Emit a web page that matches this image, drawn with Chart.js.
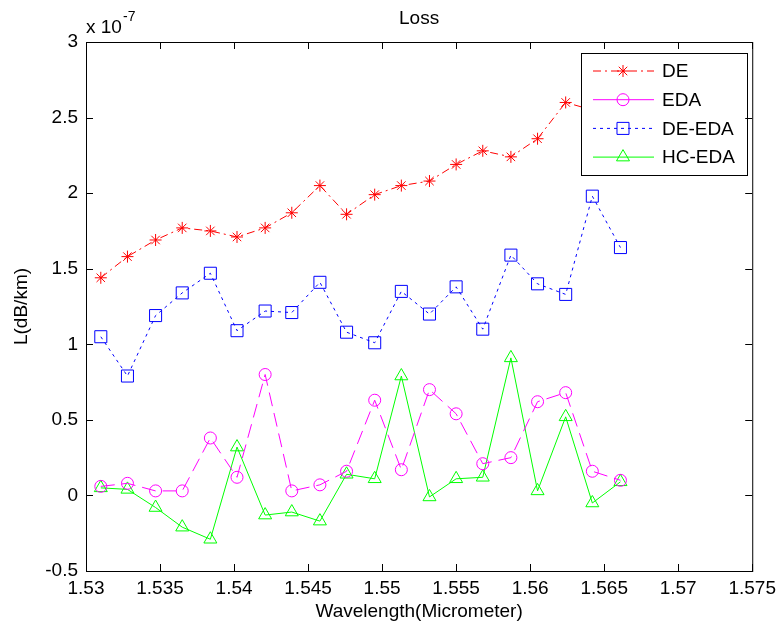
<!DOCTYPE html>
<html>
<head>
<meta charset="utf-8">
<script src="https://cdn.jsdelivr.net/npm/chart.js@4.4.0/dist/chart.umd.min.js"></script>
<style>
  body { margin: 0; background: #fff; }
</style>
</head>
<body>
<canvas id="myChart" width="782" height="630"></canvas>
<script>
// wavelength (micrometer) of each sample
const wavelength = [1.5310, 1.5328, 1.5347, 1.5365, 1.5384, 1.5402, 1.5421, 1.5439, 1.5458, 1.5476,
                    1.5495, 1.5513, 1.5532, 1.5550, 1.5568, 1.5587, 1.5605, 1.5624, 1.5642, 1.5661]
// loss values, in units of 1e-7 dB/km
const lossDE    = [1.44, 1.58, 1.69, 1.77, 1.75, 1.71, 1.77, 1.87, 2.05, 1.86,
                   1.99, 2.05, 2.08, 2.19, 2.28, 2.24, 2.36, 2.60, 2.55, 2.75]
const lossEDA   = [0.06, 0.08, 0.03, 0.03, 0.38, 0.12, 0.80, 0.03, 0.07, 0.16,
                   0.63, 0.17, 0.70, 0.54, 0.21, 0.25, 0.62, 0.68, 0.16, 0.10]
const lossDEEDA = [1.05, 0.79, 1.19, 1.34, 1.47, 1.09, 1.22, 1.21, 1.41, 1.08,
                   1.01, 1.35, 1.20, 1.38, 1.10, 1.59, 1.40, 1.33, 1.98, 1.64]
const lossHCEDA = [0.05, 0.04, -0.08, -0.21, -0.29, 0.32, -0.13, -0.11, -0.17, 0.14,
                   0.11, 0.79, -0.01, 0.11, 0.12, 0.91, 0.03, 0.52, -0.05, 0.09]
const yTicks = [-0.5, 0, 0.5, 1, 1.5, 2, 2.5, 3]
const xMin = 1.53, xMax = 1.575, xStep = 0.005

const FONT = 'Liberation Sans, Arial, sans-serif'
const FSIZE = 19

const pts = (ys) => ys.map((y, i) => ({ x: wavelength[i], y: y }))

const series = [
  { label: 'DE', data: pts(lossDE), color: '#ff0000', style: 'star', r: 6, dash: [8, 4, 2, 4], legendDash: [8, 4, 2, 4] },
  { label: 'EDA', data: pts(lossEDA), color: '#ff00ff', style: 'circle', r: 6, dash: [14, 7], legendDash: [] },
  { label: 'DE-EDA', data: pts(lossDEEDA), color: '#0000ff', style: 'rect', r: 8.5, dash: [3, 4], legendDash: [3, 4] },
  { label: 'HC-EDA', data: pts(lossHCEDA), color: '#00ff00', style: 'triangle', r: 7.5, dash: [], legendDash: [] },
]

const drawMarker = (ctx, style, x, y, r, color) => {
  ctx.save()
  ctx.strokeStyle = color
  ctx.lineWidth = 1
  ctx.setLineDash([])
  ctx.beginPath()
  if (style === 'circle') {
    ctx.arc(x, y, r, 0, Math.PI * 2)
  } else if (style === 'rect') {
    const s = Math.SQRT1_2 * r
    ctx.rect(x - s, y - s, 2 * s, 2 * s)
  } else if (style === 'triangle') {
    let a = 0
    ctx.moveTo(x + Math.sin(a) * r, y - Math.cos(a) * r)
    a += 2 * Math.PI / 3
    ctx.lineTo(x + Math.sin(a) * r, y - Math.cos(a) * r)
    a += 2 * Math.PI / 3
    ctx.lineTo(x + Math.sin(a) * r, y - Math.cos(a) * r)
    ctx.closePath()
  } else if (style === 'star') {
    const d = r * Math.SQRT1_2
    ctx.moveTo(x - r, y); ctx.lineTo(x + r, y)
    ctx.moveTo(x, y - r); ctx.lineTo(x, y + r)
    ctx.moveTo(x - d, y - d); ctx.lineTo(x + d, y + d)
    ctx.moveTo(x - d, y + d); ctx.lineTo(x + d, y - d)
  }
  ctx.stroke()
  ctx.restore()
}

// box, inside ticks on all four sides, titles
const framePlugin = {
  id: 'frame',
  afterDraw(chart) {
    const ctx = chart.ctx
    const a = chart.chartArea
    const xs = chart.scales.x, ys = chart.scales.y
    ctx.save()
    ctx.strokeStyle = '#000'
    ctx.lineWidth = 1
    ctx.strokeRect(a.left + 0.5, a.top + 0.5, a.right - a.left, a.bottom - a.top)
    ctx.beginPath()
    xs.ticks.forEach(t => {
      const px = Math.round(xs.getPixelForValue(t.value)) + 0.5
      ctx.moveTo(px, a.bottom); ctx.lineTo(px, a.bottom - 7)
      ctx.moveTo(px, a.top); ctx.lineTo(px, a.top + 7)
    })
    ys.ticks.forEach(t => {
      const py = Math.round(ys.getPixelForValue(t.value)) + 0.5
      ctx.moveTo(a.left, py); ctx.lineTo(a.left + 7, py)
      ctx.moveTo(a.right, py); ctx.lineTo(a.right - 7, py)
    })
    ctx.stroke()

    ctx.fillStyle = '#000'
    ctx.font = FSIZE + 'px ' + FONT
    ctx.textAlign = 'center'
    ctx.textBaseline = 'middle'
    ctx.fillText('Loss', (a.left + a.right) / 2, 19)
    ctx.fillText('Wavelength(Micrometer)', (a.left + a.right) / 2, 612)
    ctx.save()
    ctx.translate(22, (a.top + a.bottom) / 2)
    ctx.rotate(-Math.PI / 2)
    ctx.fillText('L(dB/km)', 0, 0)
    ctx.restore()

    ctx.textAlign = 'left'
    ctx.textBaseline = 'alphabetic'
    ctx.fillText('x 10', a.left, 33)
    ctx.font = '14px ' + FONT
    ctx.fillText('-7', a.left + 37, 21)
    ctx.restore()
  }
}

// opaque legend box in the upper right corner
const legendPlugin = {
  id: 'boxLegend',
  afterDatasetsDraw(chart) {
    const ctx = chart.ctx
    const left = 581, top = 53, w = 166, h = 122
    ctx.save()
    ctx.fillStyle = '#fff'
    ctx.fillRect(left, top, w, h)
    ctx.strokeStyle = '#000'
    ctx.lineWidth = 1
    ctx.strokeRect(left + 0.5, top + 0.5, w, h)
    series.forEach((s, i) => {
      const y = top + 18 + i * 28.7
      ctx.strokeStyle = s.color
      ctx.setLineDash(s.legendDash)
      ctx.beginPath()
      ctx.moveTo(left + 12, y); ctx.lineTo(left + 73, y)
      ctx.stroke()
      drawMarker(ctx, s.style, left + 42, y, s.r, s.color)
      ctx.setLineDash([])
      ctx.fillStyle = '#000'
      ctx.font = FSIZE + 'px ' + FONT
      ctx.textAlign = 'left'
      ctx.textBaseline = 'middle'
      ctx.fillText(s.label, left + 81, y + 1)
    })
    ctx.restore()
  }
}

const ctx = document.getElementById('myChart').getContext('2d')
const myChart = new Chart(ctx, {
  type: 'scatter',
  data: {
    datasets: series.map(s => ({
      label: s.label,
      data: s.data,
      showLine: true,
      borderColor: s.color,
      backgroundColor: 'rgba(0,0,0,0)',
      borderWidth: 1,
      borderDash: s.dash,
      pointStyle: s.style,
      pointRadius: s.r,
      pointBorderColor: s.color,
      pointBackgroundColor: 'rgba(0,0,0,0)',
      pointBorderWidth: 1,
      tension: 0,
    })),
  },
  options: {
    responsive: false,
    animation: false,
    layout: { padding: { left: 0, top: 42, right: 26, bottom: 0 } },
    plugins: {
      legend: { display: false },
      tooltip: { enabled: false },
      title: { display: false },
    },
    scales: {
      x: {
        type: 'linear',
        min: xMin,
        max: xMax,
        grid: { display: false, drawTicks: false },
        border: { display: false },
        afterFit: (scale) => { scale.height = 59 },
        ticks: {
          stepSize: xStep,
          autoSkip: false,
          maxRotation: 0,
          padding: 6,
          color: '#000',
          font: { family: FONT, size: FSIZE },
          callback: (v) => Number(v.toFixed(3)).toString(),
        },
      },
      y: {
        type: 'linear',
        min: yTicks[0],
        max: yTicks[yTicks.length - 1],
        grid: { display: false, drawTicks: false },
        border: { display: false },
        afterFit: (scale) => { scale.width = 86 },
        afterBuildTicks: (scale) => { scale.ticks = yTicks.map(v => ({ value: v })) },
        ticks: {
          padding: 8,
          color: '#000',
          font: { family: FONT, size: FSIZE },
          callback: (v) => Number(v.toFixed(1)).toString(),
        },
      },
    },
  },
  plugins: [framePlugin, legendPlugin],
})
</script>
</body>
</html>
